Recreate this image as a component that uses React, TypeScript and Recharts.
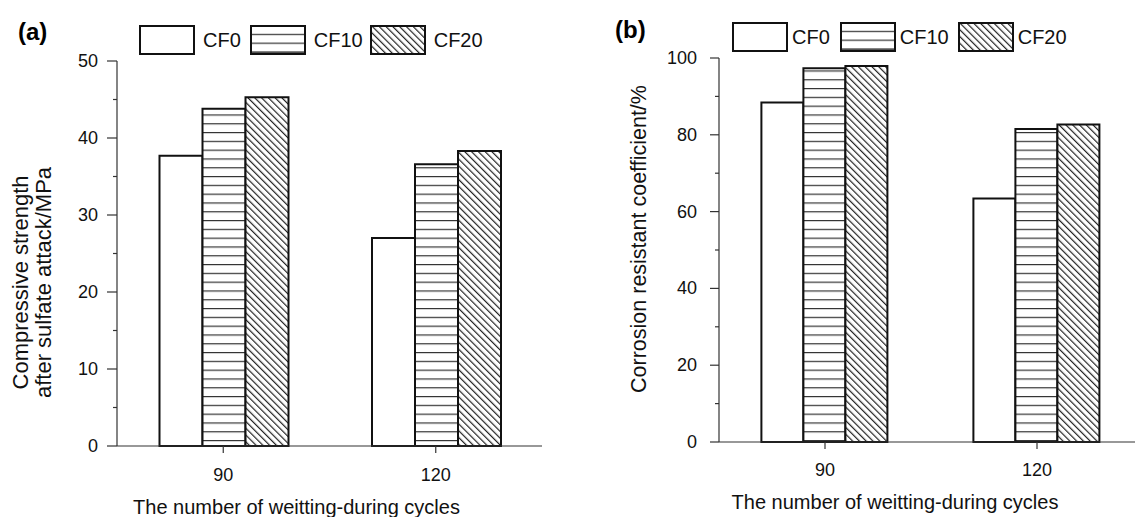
import React from "react";
import { BarChart, Bar, XAxis, YAxis, Legend } from "recharts";

// categories + series
const cycles = ["90", "120"];
const seriesNames = ["CF0", "CF10", "CF20"];

// (a) compressive strength after sulfate attack, MPa
const strengthCF0 = [37.7, 27.0];
const strengthCF10 = [43.8, 36.6];
const strengthCF20 = [45.3, 38.3];

// (b) corrosion resistant coefficient, %
const coefCF0 = [88.4, 63.4];
const coefCF10 = [97.3, 81.5];
const coefCF20 = [97.9, 82.7];

const strengthTicks = [0, 5, 10, 15, 20, 25, 30, 35, 40, 45, 50];
const coefTicks = [0, 10, 20, 30, 40, 50, 60, 70, 80, 90, 100];
const boundaryTicks = [1, 2];

const FILLS = ["#ffffff", "url(#hlines)", "url(#hatch)"];
const INK = "#111";
const AXIS = "#333";

const dataA = cycles.map((c, i) => ({
  cycle: c,
  CF0: strengthCF0[i],
  CF10: strengthCF10[i],
  CF20: strengthCF20[i],
}));
const dataB = cycles.map((c, i) => ({
  cycle: c,
  CF0: coefCF0[i],
  CF10: coefCF10[i],
  CF20: coefCF20[i],
}));

const Patterns = () => (
  <defs>
    <pattern id="hlines" patternUnits="userSpaceOnUse" width="10" height="8.8">
      <rect width="10" height="8.8" fill="#fff" />
      <line x1="0" x2="10" y1="0.6" y2="0.6" stroke="#333" strokeWidth="1.2" />
    </pattern>
    <pattern
      id="hatch"
      patternUnits="userSpaceOnUse"
      width="4.8"
      height="10"
      patternTransform="rotate(-45)"
    >
      <rect width="4.8" height="10" fill="#fff" />
      <line x1="0.6" x2="0.6" y1="0" y2="10" stroke="#222" strokeWidth="1.2" />
    </pattern>
  </defs>
);

const YTick = (props: any) => {
  const { x, y, payload, major, gap, minorLen, majorLen } = props;
  const isMajor = payload.value % major === 0;
  return (
    <g>
      <line
        x1={x}
        x2={x - (isMajor ? majorLen : minorLen)}
        y1={y}
        y2={y}
        stroke={AXIS}
        strokeWidth={1.2}
      />
      {isMajor && (
        <text
          x={x - gap}
          y={y}
          textAnchor="end"
          dominantBaseline="central"
          fontSize={18}
          fill={INK}
        >
          {payload.value}
        </text>
      )}
    </g>
  );
};

const XTick = (props: any) => {
  const { x, y, payload, labelDy } = props;
  return (
    <g>
      <line x1={x} x2={x} y1={y} y2={y + 7} stroke={AXIS} strokeWidth={1.2} />
      <text
        x={x}
        y={y + labelDy}
        textAnchor="middle"
        dominantBaseline="central"
        fontSize={18}
        fill={INK}
      >
        {payload.value}
      </text>
    </g>
  );
};

// tick marks on the band edges, no labels
const EdgeTick = (props: any) => {
  const { x, y } = props;
  return <line x1={x} x2={x} y1={y} y2={y + 7} stroke={AXIS} strokeWidth={1.2} />;
};

const YTitle = (props: any) => {
  const { viewBox, lines, dx, dy, size } = props;
  const right = viewBox.x + viewBox.width;
  const cy = viewBox.y + viewBox.height / 2 + dy;
  return (
    <g>
      {lines.map((t: string, i: number) => {
        const cx = right + dx + i * 23;
        return (
          <text
            key={t}
            x={cx}
            y={cy}
            transform={`rotate(-90, ${cx}, ${cy})`}
            textAnchor="middle"
            dominantBaseline="central"
            fontSize={size}
            fill={INK}
          >
            {t}
          </text>
        );
      })}
    </g>
  );
};

const XTitle = (props: any) => {
  const { viewBox, dx, dy } = props;
  return (
    <text
      x={viewBox.x + viewBox.width / 2 + dx}
      y={viewBox.y + dy}
      textAnchor="middle"
      dominantBaseline="central"
      fontSize={20}
      fill={INK}
    >
      The number of weitting-during cycles
    </text>
  );
};

const LegendBoxes = ({ textGap, gaps }: { textGap: number; gaps: number[] }) => (
  <div style={{ display: "flex", alignItems: "center", whiteSpace: "nowrap" }}>
    {seriesNames.map((n, i) => (
      <div
        key={n}
        style={{ display: "flex", alignItems: "center", marginRight: gaps[i] }}
      >
        <svg width={56} height={30} style={{ display: "block" }}>
          <rect
            x={1}
            y={1}
            width={54}
            height={28}
            fill={FILLS[i]}
            stroke={INK}
            strokeWidth={2}
          />
          {i === 1 && <line x1={1} x2={55} y1={28.5} y2={28.5} stroke={INK} strokeWidth={2} />}
        </svg>
        <span style={{ marginLeft: textGap, fontSize: 20, color: INK }}>{n}</span>
      </div>
    ))}
  </div>
);

const bars = [0, 1, 2].map((i) => (
  <Bar
    key={seriesNames[i]}
    xAxisId="cat"
    dataKey={seriesNames[i]}
    fill={FILLS[i]}
    stroke={INK}
    strokeWidth={2}
    isAnimationActive={false}
  />
));

export default function App() {
  return (
    <div
      style={{
        position: "absolute",
        left: 0,
        top: 0,
        width: 1135,
        height: 517,
        overflow: "hidden",
        background: "#fff",
        fontFamily: "'Liberation Sans', Arial, sans-serif",
      }}
    >
      <div style={{ position: "absolute", left: 18, top: 18, fontSize: 24, fontWeight: "bold" }}>
        (a)
      </div>
      <div style={{ position: "absolute", left: 615, top: 16, fontSize: 24, fontWeight: "bold" }}>
        (b)
      </div>

      <div style={{ position: "absolute", left: 0, top: 0 }}>
        <BarChart
          width={560}
          height={517}
          data={dataA}
          margin={{ top: 61, right: 18, left: 57, bottom: 1 }}
          barCategoryGap="20%"
          barGap={0}
        >
          <Patterns />
          <XAxis
            xAxisId={0}
            type="number"
            domain={[0, 2]}
            ticks={boundaryTicks}
            height={0}
            axisLine={false}
            tickLine={false}
            tickSize={0}
            tickMargin={0}
            tick={<EdgeTick />}
            interval={0}
          />
          <XAxis
            xAxisId="cat"
            dataKey="cycle"
            height={70}
            axisLine={{ stroke: AXIS, strokeWidth: 1.2 }}
            tickLine={false}
            tickSize={0}
            tickMargin={0}
            tick={<XTick labelDy={29} />}
            interval={0}
            label={<XTitle dx={-33} dy={61} />}
          />
          <YAxis
            domain={[0, 50]}
            ticks={strengthTicks}
            width={60}
            interval={0}
            axisLine={{ stroke: AXIS, strokeWidth: 1.2 }}
            tickLine={false}
            tickSize={0}
            tickMargin={0}
            tick={<YTick major={10} gap={19} majorLen={10} minorLen={4} />}
            label={
              <YTitle
                lines={["Compressive strength", "after sulfate attack/MPa"]}
                dx={-97}
                dy={29}
                size={22}
              />
            }
          />
          <Legend
            layout="horizontal"
            verticalAlign="middle"
            align="center"
            wrapperStyle={{ top: 25, left: 139, width: "auto" }}
            content={() => <LegendBoxes textGap={8} gaps={[9, 7, 0]} />}
          />
          {bars}
        </BarChart>
      </div>

      <div style={{ position: "absolute", left: 560, top: 0 }}>
        <BarChart
          width={600}
          height={517}
          data={dataB}
          margin={{ top: 58, right: 17, left: 99, bottom: 1 }}
          barCategoryGap="20%"
          barGap={0}
        >
          <Patterns />
          <XAxis
            xAxisId={0}
            type="number"
            domain={[0, 2]}
            ticks={boundaryTicks}
            height={0}
            axisLine={false}
            tickLine={false}
            tickSize={0}
            tickMargin={0}
            tick={<EdgeTick />}
            interval={0}
          />
          <XAxis
            xAxisId="cat"
            dataKey="cycle"
            height={74}
            axisLine={{ stroke: AXIS, strokeWidth: 1.2 }}
            tickLine={false}
            tickSize={0}
            tickMargin={0}
            tick={<XTick labelDy={28} />}
            interval={0}
            label={<XTitle dx={-36} dy={60} />}
          />
          <YAxis
            domain={[0, 100]}
            ticks={coefTicks}
            width={60}
            interval={0}
            axisLine={{ stroke: AXIS, strokeWidth: 1.2 }}
            tickLine={false}
            tickSize={0}
            tickMargin={0}
            tick={<YTick major={20} gap={22} majorLen={9} minorLen={4} />}
            label={
              <YTitle
                lines={["Corrosion resistant coefficient/%"]}
                dx={-80}
                dy={-11}
                size={21.5}
              />
            }
          />
          <Legend
            layout="horizontal"
            verticalAlign="middle"
            align="center"
            wrapperStyle={{ top: 22, left: 172, width: "auto" }}
            content={() => <LegendBoxes textGap={4} gaps={[10, 9, 0]} />}
          />
          {bars}
        </BarChart>
      </div>
    </div>
  );
}
